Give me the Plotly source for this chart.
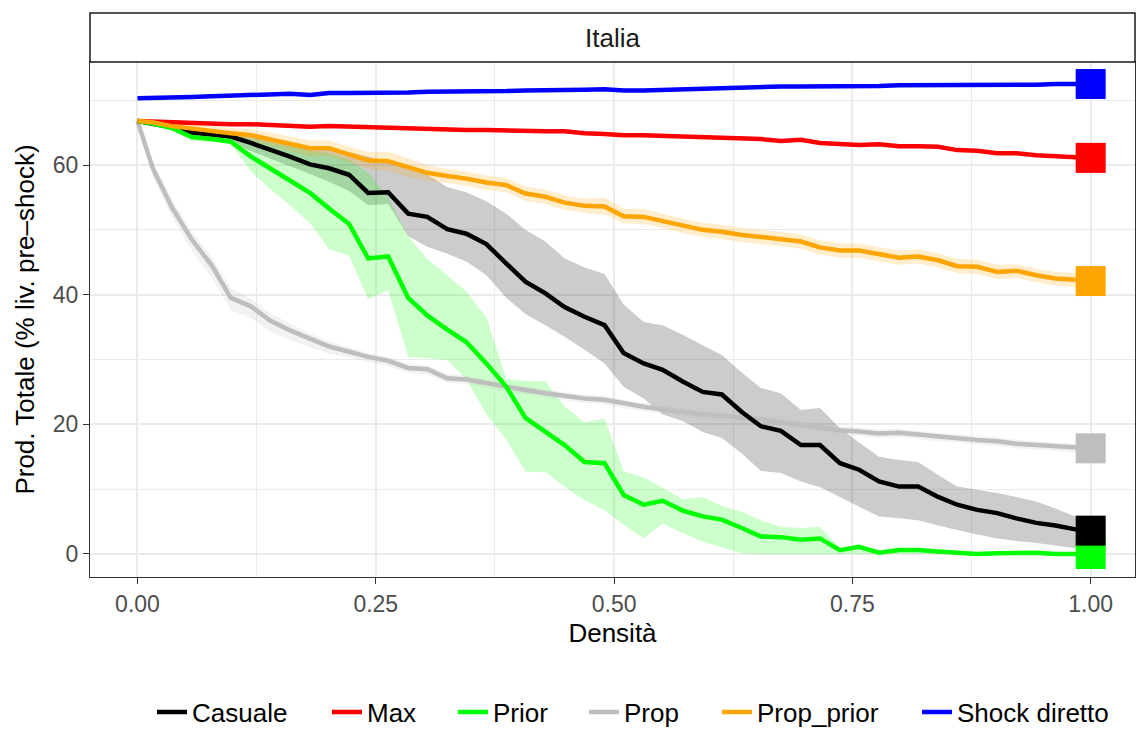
import plotly.graph_objects as go

# ---- data ----
densita = [0.0, 0.016, 0.036, 0.057, 0.078, 0.098, 0.119, 0.139, 0.160, 0.181,
           0.201, 0.222, 0.242, 0.263, 0.284, 0.304, 0.325, 0.345, 0.366, 0.387,
           0.407, 0.428, 0.448, 0.469, 0.490, 0.510, 0.531, 0.551, 0.572, 0.593,
           0.613, 0.634, 0.654, 0.675, 0.696, 0.716, 0.737, 0.757, 0.778, 0.799,
           0.819, 0.840, 0.860, 0.881, 0.902, 0.922, 0.943, 0.963, 0.984, 1.0]

casuale = [66.8, 66.4, 65.8, 65.0, 64.7, 64.4, 63.4, 62.4, 61.3, 60.1,
           59.5, 58.5, 55.7, 55.8, 52.5, 52.0, 50.1, 49.4, 47.8, 44.8,
           42.0, 40.2, 38.1, 36.6, 35.3, 31.0, 29.4, 28.4, 26.6, 25.0,
           24.6, 21.9, 19.7, 19.0, 16.8, 16.8, 14.0, 13.0, 11.2, 10.4,
           10.4, 8.8, 7.6, 6.8, 6.3, 5.5, 4.8, 4.4, 3.8, 3.6]
casuale_hi = [66.8, 66.6, 66.1, 65.5, 65.1, 64.8, 64.3, 63.7, 63.2, 62.9,
              62.6, 62.0, 61.3, 60.4, 59.7, 58.5, 56.6, 55.8, 54.4, 52.5,
              50.0, 48.2, 45.6, 44.2, 43.2, 38.5, 35.8, 35.3, 33.8, 32.2,
              30.7, 28.0, 25.6, 24.8, 22.2, 22.5, 19.4, 17.2, 15.0, 14.5,
              14.2, 12.2, 10.4, 9.9, 9.4, 8.8, 8.1, 7.0, 5.8, 5.4]
casuale_lo = [66.8, 66.2, 65.4, 64.6, 64.0, 63.3, 62.2, 61.0, 59.8, 58.6,
              57.4, 56.0, 53.8, 54.0, 49.0, 47.4, 46.3, 45.1, 43.0, 39.5,
              37.0, 35.3, 33.5, 31.5, 29.4, 25.8, 24.0, 21.5, 20.5, 18.8,
              17.9, 15.5, 12.8, 12.5, 11.2, 10.3, 8.8, 7.3, 5.8, 5.5,
              5.2, 4.4, 3.7, 3.0, 2.4, 2.0, 1.7, 1.3, 0.9, 0.8]

max_ = [66.8, 66.7, 66.6, 66.5, 66.4, 66.3, 66.3, 66.2, 66.1, 65.9,
        66.0, 65.9, 65.8, 65.8, 65.7, 65.6, 65.5, 65.4, 65.4, 65.3,
        65.3, 65.2, 65.2, 64.9, 64.8, 64.6, 64.6, 64.5, 64.5, 64.4,
        64.3, 64.1, 64.0, 63.7, 63.9, 63.4, 63.3, 63.1, 63.2, 62.9,
        62.9, 62.8, 62.3, 62.2, 61.8, 61.8, 61.5, 61.3, 61.2, 61.1]

prior = [66.8, 66.4, 65.7, 64.3, 64.0, 63.6, 61.3, 59.5, 57.5, 55.7,
         53.3, 50.9, 45.6, 45.9, 39.5, 36.8, 34.6, 32.7, 29.4, 25.8,
         21.0, 18.9, 16.8, 14.2, 14.0, 9.1, 7.6, 8.2, 6.7, 5.8,
         5.3, 4.0, 2.7, 2.6, 2.2, 2.4, 0.6, 1.1, 0.2, 0.6,
         0.6, 0.4, 0.2, 0.0, 0.1, 0.1, 0.2, 0.0, 0.0, 0.0]
prior_hi = [66.8, 66.6, 66.1, 65.5, 65.1, 64.7, 64.1, 63.5, 62.9, 62.2,
            61.8, 60.8, 58.8, 55.0, 49.0, 45.5, 43.0, 40.5, 36.5, 27.0,
            26.7, 26.6, 22.8, 20.3, 20.9, 12.8, 11.8, 10.2, 8.4, 8.8,
            7.4, 6.5, 5.2, 4.2, 4.0, 4.2, 0.9, 1.3, 0.4, 0.8,
            0.8, 0.6, 0.4, 0.2, 0.3, 0.3, 0.4, 0.2, 0.2, 0.2]
prior_lo = [66.8, 66.2, 65.3, 63.8, 63.5, 63.3, 59.0, 56.3, 53.8, 51.0,
            47.0, 46.0, 39.3, 40.7, 30.4, 30.2, 29.9, 27.0, 21.5, 17.6,
            12.7, 12.6, 10.4, 8.3, 6.8, 4.5, 2.4, 4.7, 3.2, 1.9,
            1.0, 0.1, 0.0, 0.0, 0.0, 0.0, 0.0, 0.0, 0.0, 0.0,
            0.0, 0.0, 0.0, 0.0, 0.0, 0.0, 0.0, 0.0, 0.0, 0.0]

prop = [66.8, 59.5, 53.5, 48.5, 44.5, 39.5, 38.2, 36.0, 34.5, 33.2,
        32.0, 31.2, 30.4, 29.8, 28.7, 28.5, 27.1, 26.9, 26.3, 25.7,
        25.3, 24.8, 24.4, 24.0, 23.8, 23.2, 22.7, 22.3, 21.9, 21.5,
        21.3, 21.0, 20.8, 20.3, 19.9, 19.5, 19.1, 18.9, 18.6, 18.7,
        18.4, 18.1, 17.9, 17.6, 17.4, 17.0, 16.8, 16.6, 16.4, 16.3]
prop_hi = [66.8, 60.5, 54.8, 49.8, 45.8, 41.0, 39.4, 37.2, 35.5, 34.0,
           32.8, 31.9, 31.0, 30.4, 29.4, 29.1, 27.8, 27.5, 26.9, 26.3,
           25.9, 25.4, 25.0, 24.6, 24.4, 23.8, 23.3, 22.9, 22.5, 22.1,
           21.9, 21.6, 21.4, 20.9, 20.5, 20.1, 19.7, 19.5, 19.2, 19.3,
           19.0, 18.7, 18.5, 18.2, 18.0, 17.6, 17.4, 17.2, 17.0, 16.9]
prop_lo = [66.8, 58.3, 52.0, 46.8, 42.6, 37.6, 36.4, 34.3, 33.0, 31.9,
           30.9, 30.3, 29.6, 29.0, 27.9, 27.7, 26.4, 26.2, 25.6, 25.0,
           24.6, 24.1, 23.7, 23.3, 23.1, 22.5, 22.0, 21.6, 21.2, 20.8,
           20.6, 20.3, 20.1, 19.6, 19.2, 18.8, 18.4, 18.2, 17.9, 18.0,
           17.7, 17.4, 17.2, 16.9, 16.7, 16.3, 16.1, 15.9, 15.7, 15.6]

prop_prior = [66.8, 66.6, 66.0, 65.6, 65.3, 64.9, 64.6, 64.0, 63.3, 62.6,
              62.6, 61.6, 60.7, 60.6, 59.6, 58.8, 58.3, 57.9, 57.3, 56.9,
              55.6, 55.1, 54.2, 53.7, 53.6, 52.1, 52.0, 51.4, 50.6, 50.0,
              49.7, 49.2, 48.9, 48.6, 48.2, 47.3, 46.8, 46.8, 46.2, 45.7,
              45.9, 45.3, 44.4, 44.3, 43.5, 43.7, 43.0, 42.5, 42.3, 42.1]
prop_prior_hi = [66.8, 66.9, 66.5, 66.2, 66.0, 65.7, 65.5, 65.0, 64.4, 63.8,
                 63.8, 62.8, 62.0, 62.1, 61.0, 60.0, 59.4, 59.0, 58.4, 58.0,
                 56.7, 56.2, 55.3, 54.8, 55.0, 53.3, 53.2, 52.5, 51.7, 51.1,
                 50.8, 50.3, 50.0, 49.7, 49.3, 48.4, 47.9, 47.9, 47.3, 46.8,
                 47.0, 46.4, 45.5, 45.4, 44.6, 44.7, 44.0, 43.5, 43.3, 43.1]
prop_prior_lo = [66.8, 66.3, 65.5, 65.0, 64.6, 64.1, 63.7, 63.0, 62.2, 61.4,
                 61.4, 60.4, 59.4, 59.1, 58.2, 57.6, 57.2, 56.8, 56.2, 55.8,
                 54.5, 54.0, 53.1, 52.6, 52.4, 51.0, 50.9, 50.3, 49.5, 48.9,
                 48.6, 48.1, 47.8, 47.5, 47.1, 46.2, 45.7, 45.7, 45.1, 44.6,
                 44.8, 44.2, 43.3, 43.2, 42.4, 42.6, 41.9, 41.4, 41.2, 41.0]

shock = [70.3, 70.4, 70.5, 70.5, 70.6, 70.7, 70.8, 70.9, 71.0, 70.8,
         71.1, 71.1, 71.1, 71.2, 71.2, 71.3, 71.3, 71.4, 71.4, 71.4,
         71.5, 71.5, 71.6, 71.6, 71.7, 71.5, 71.5, 71.6, 71.7, 71.8,
         71.8, 71.9, 72.0, 72.1, 72.1, 72.1, 72.2, 72.2, 72.2, 72.3,
         72.3, 72.3, 72.3, 72.4, 72.4, 72.4, 72.4, 72.5, 72.5, 72.5]

series_names = ["Casuale", "Max", "Prior", "Prop", "Prop_prior", "Shock diretto"]
series_colors = {"Casuale": "#000000", "Max": "#FF0000", "Prior": "#00FF00",
                 "Prop": "#BEBEBE", "Prop_prior": "#FFA500", "Shock diretto": "#0000FF"}
band_colors = {"Casuale": "rgba(0,0,0,0.2)", "Prior": "rgba(0,255,0,0.2)",
               "Prop": "rgba(190,190,190,0.2)", "Prop_prior": "rgba(255,165,0,0.2)"}

means = {"Casuale": casuale, "Max": max_, "Prior": prior, "Prop": prop,
         "Prop_prior": prop_prior, "Shock diretto": shock}
bands = {"Casuale": (casuale_lo, casuale_hi), "Prior": (prior_lo, prior_hi),
         "Prop": (prop_lo, prop_hi), "Prop_prior": (prop_prior_lo, prop_prior_hi)}

FONT = "Liberation Sans, Arial, Helvetica, sans-serif"
W, H = 1136, 729
L, R, T, B = 90, 1, 62, 152
ph = H - T - B

# legend entry text start (pixels from the left of the image)
legend_text_x = {"Casuale": 192, "Max": 367, "Prior": 493, "Prop": 624,
                 "Prop_prior": 757, "Shock diretto": 957}
legend_ids = {n: ("legend" if i == 0 else "legend%d" % (i + 1)) for i, n in enumerate(series_names)}

fig = go.Figure()

# ribbons
for name in ["Casuale", "Prior", "Prop", "Prop_prior"]:
    lo, hi = bands[name]
    fig.add_trace(go.Scatter(
        x=densita + densita[::-1], y=hi + lo[::-1],
        fill="toself", fillcolor=band_colors[name], mode="none",
        line=dict(width=0), hoverinfo="skip", showlegend=False))

# lines
draw_order = ["Prop", "Casuale", "Max", "Prior", "Prop_prior", "Shock diretto"]
for name in draw_order:
    fig.add_trace(go.Scatter(
        x=densita, y=means[name], mode="lines", name=name,
        line=dict(color=series_colors[name], width=4.5),
        legend=legend_ids[name]))

# end squares
for name in ["Shock diretto", "Max", "Prop_prior", "Prop", "Prior", "Casuale"]:
    fig.add_trace(go.Scatter(
        x=[densita[-1]], y=[means[name][-1]], mode="markers",
        marker=dict(symbol="square", size=30, color=series_colors[name], line=dict(width=0)),
        showlegend=False, hoverinfo="skip"))

axis_common = dict(
    showgrid=True, gridcolor="#EBEBEB", gridwidth=1.6,
    ticks="outside", ticklen=6, tickwidth=1.3, tickcolor="#333333",
    tickfont=dict(size=23, color="#4D4D4D", family=FONT),
    showline=True, linecolor="#333333", linewidth=1.3, mirror=True,
    zeroline=False, automargin=False)

layout_legends = {}
for name in series_names:
    layout_legends[legend_ids[name]] = dict(
        orientation="h", xref="container", yref="container",
        x=(legend_text_x[name] - 40) / W, xanchor="left",
        y=1 - 712 / H, yanchor="middle",
        font=dict(size=26, family=FONT, color="#000000"),
        bgcolor="rgba(0,0,0,0)", borderwidth=0)

fig.update_layout(
    width=W, height=H,
    margin=dict(l=L, r=R, t=T, b=B, autoexpand=False),
    paper_bgcolor="white", plot_bgcolor="white",
    font=dict(family=FONT, color="#000000"),
    showlegend=True,
    xaxis=dict(range=[-0.0498, 1.0465], tickvals=[0, 0.25, 0.5, 0.75, 1.0],
               ticktext=["0.00", "0.25", "0.50", "0.75", "1.00"],
               minor=dict(tickvals=[0.125, 0.375, 0.625, 0.875], showgrid=True,
                          gridcolor="#EBEBEB", gridwidth=0.8, ticks=""),
               title=dict(text="Densità", font=dict(size=26, color="#000000", family=FONT),
                          standoff=8),
               **axis_common),
    yaxis=dict(range=[-3.55, 75.89], tickvals=[0, 20, 40, 60],
               minor=dict(tickvals=[10, 30, 50, 70], showgrid=True,
                          gridcolor="#EBEBEB", gridwidth=0.8, ticks=""),
               title=dict(text="Prod. Totale (% liv. pre\u2013shock)",
                          font=dict(size=26, color="#000000", family=FONT),
                          standoff=10),
               **axis_common),
    **layout_legends,
)

# facet strip
strip_top = 1 + (T - 13) / ph
fig.add_shape(type="rect", xref="paper", yref="paper", x0=0, x1=1, y0=1, y1=strip_top,
              fillcolor="white", line=dict(color="#1A1A1A", width=1.5), layer="above")
fig.add_annotation(text="Italia", xref="paper", yref="paper", x=0.5, y=(1 + strip_top) / 2,
                   showarrow=False, xanchor="center", yanchor="middle",
                   font=dict(size=26, color="#1A1A1A", family=FONT))

fig.write_html("out.html")
